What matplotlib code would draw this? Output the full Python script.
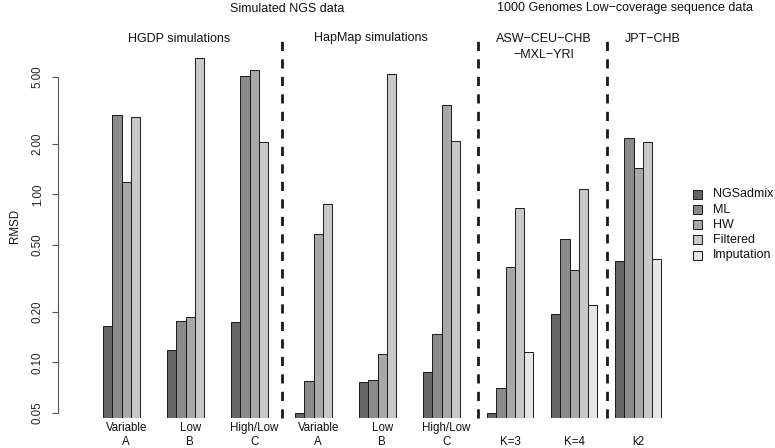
import matplotlib
matplotlib.use('Agg')
import matplotlib.pyplot as plt
import numpy as np
from matplotlib.patches import Rectangle

plt.rcParams['font.family'] = ['Liberation Sans', 'DejaVu Sans']

# groups: 6 simulated settings + 3 real data sets
group_labels = ['Variable\nA', 'Low\nB', 'High/Low\nC',
                'Variable\nA', 'Low\nB', 'High/Low\nC',
                '\nK=3', '\nK=4', '\nk2']
methods = ['NGSadmix', 'ML', 'HW', 'Filtered', 'Imputation']
colors = ['#666666', '#8a8a8a', '#a8a8a8', '#c8c8c8', '#e6e6e6']

# RMSD per method, one value per group (nan = not run)
ngsadmix = [0.164, 0.118, 0.174, 0.0501, 0.0767, 0.0875, 0.0499, 0.195, 0.403]
ml = [2.97, 0.177, 5.08, 0.0777, 0.0786, 0.147, 0.0706, 0.542, 2.15]
hw = [1.18, 0.185, 5.52, 0.580, 0.112, 3.39, 0.369, 0.353, 1.44]
filtered = [2.87, 6.45, 2.04, 0.876, 5.18, 2.08, 0.829, 1.075, 2.06]
imputation = [np.nan] * 6 + [0.1147, 0.218, 0.410]

yticks = [0.05, 0.10, 0.20, 0.50, 1.00, 2.00, 5.00]

W, H = 775, 448
fig = plt.figure(figsize=(W / 100, H / 100), dpi=100)


def fx(x):
    return x / W


def fy(y):
    return 1 - y / H


ax = fig.add_axes([fx(58), fy(418), fx(680) - fx(58), fy(36) - fy(418)])
ax.set_yscale('log')
ymin, ymax = 0.04662, 8.76
ax.set_ylim(ymin, ymax)
ax.set_xlim(-4.955, 63.07)

series = [ngsadmix, ml, hw, filtered, imputation]
slots = 7  # 5 bars + 2 gap
for j, (vals, col) in enumerate(zip(series, colors)):
    vals = np.array(vals, dtype=float)
    x = np.arange(len(vals)) * slots + j
    ok = ~np.isnan(vals)
    ax.bar(x[ok], vals[ok] - ymin, bottom=ymin, width=1, align='edge',
           color=col, edgecolor='#1a1a1a', linewidth=0.7)

# separators between data sets
for xs in [19.55, 41.0, 55.05]:
    ax.plot([xs, xs], [ymin, 10 ** ((194.3 - 36.5) / 168)], color='#1a1a1a',
            lw=2, dashes=(3.3, 3.0), clip_on=False)

# axes styling (R-like)
for s in ['top', 'right', 'bottom']:
    ax.spines[s].set_visible(False)
ax.spines['left'].set_bounds(yticks[0], yticks[-1])
ax.spines['left'].set_color('#555555')
ax.spines['left'].set_linewidth(0.8)
ax.set_yticks(yticks)
ax.set_yticklabels(['%.2f' % v for v in yticks], rotation=90, va='center',
                   fontsize=8.3, color='#222222')
ax.yaxis.set_minor_locator(matplotlib.ticker.NullLocator())
ax.tick_params(axis='y', length=4.3, width=0.8, color='#555555', pad=6)

centers = np.arange(len(group_labels)) * slots + 2.5
ax.set_xticks(centers)
ax.set_xticklabels(group_labels, fontsize=8.3, linespacing=1.25, color='#111111')
ax.tick_params(axis='x', length=0, pad=3)

fig.text(fx(15), fy(226), 'RMSD', rotation=90, ha='center', va='center',
         fontsize=8.3, color='#111111')

# headings
heads = [
    (287, 8.5, 'Simulated NGS data'),
    (625, 8.5, '1000 Genomes Low\u2212coverage sequence data'),
    (179, 39, 'HGDP simulations'),
    (371, 38, 'HapMap simulations'),
    (544, 39, 'ASW\u2212CEU\u2212CHB'),
    (544, 55, '\u2212MXL\u2212YRI'),
    (653, 39, 'JPT\u2212CHB'),
]
for x, y, t in heads:
    fig.text(fx(x), fy(y), t, ha='center', va='center', fontsize=9,
             color='#111111')

# legend
for i, (m, col) in enumerate(zip(methods, colors)):
    yc = 194.3 + i * 15.2
    fig.patches.append(Rectangle((fx(692.5), fy(yc + 4.5)), fx(9), 9 / H,
                                 transform=fig.transFigure, facecolor=col,
                                 edgecolor='#1a1a1a', linewidth=0.7))
    fig.text(fx(713), fy(yc), m, ha='left', va='center', fontsize=9,
             color='#111111')

fig.savefig('out.png', dpi=100)
